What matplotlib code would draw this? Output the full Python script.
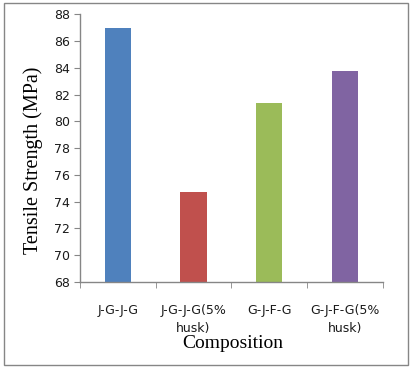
import matplotlib
matplotlib.use("Agg")
import matplotlib.pyplot as plt
from matplotlib.patches import Rectangle

categories = ["J-G-J-G", "J-G-J-G(5%\nhusk)", "G-J-F-G", "G-J-F-G(5%\nhusk)"]
strength = [87.0, 74.7, 81.4, 83.8]
bar_colors = ["#4F81BD", "#C0504D", "#9BBB59", "#8064A2"]
y_ticks = [68, 70, 72, 74, 76, 78, 80, 82, 84, 86, 88]

fig = plt.figure(figsize=(4.11, 3.69), dpi=100)
fig.patch.set_facecolor("white")

# outer chart border
fig.add_artist(Rectangle((4 / 411, 1 - 365 / 369), 404 / 411, 362 / 369,
                         transform=fig.transFigure, fill=False,
                         edgecolor="#868686", linewidth=1.0))

ax = fig.add_axes([80 / 411, 1 - 282 / 369, 302.7 / 411, 267.7 / 369])
x = list(range(len(categories)))
ax.bar(x, strength, width=0.345, color=bar_colors, zorder=2)

ax.set_xlim(-0.5, len(categories) - 0.5)
ax.set_ylim(68, 88)
ax.set_yticks(y_ticks)
ax.set_yticklabels([str(v) for v in y_ticks])
ax.set_xticks(x)
ax.set_xticklabels(categories, linespacing=1.45)
ax.set_xticks([i - 0.5 for i in range(len(categories) + 1)], minor=True)

tick_font = "DejaVu Sans"
for lab in ax.get_yticklabels() + ax.get_xticklabels():
    lab.set_fontfamily(tick_font)
    lab.set_fontsize(9)
    lab.set_color("#1a1a1a")

ax.tick_params(axis="y", direction="out", length=4, color="#868686", pad=3)
ax.tick_params(axis="x", which="major", length=0, pad=16)
ax.tick_params(axis="x", which="minor", direction="out", length=4, color="#868686")

for side in ["top", "right"]:
    ax.spines[side].set_visible(False)
for side in ["left", "bottom"]:
    ax.spines[side].set_color("#868686")
    ax.spines[side].set_linewidth(1.0)

fig.text(33 / 411, 1 - 160 / 369, "Tensile Strength (MPa)", rotation=90,
         ha="center", va="center", fontfamily="Liberation Serif", fontsize=14.5)
fig.text(233 / 411, 1 - 343 / 369, "Composition", ha="center", va="center",
         fontfamily="Liberation Serif", fontsize=14)

fig.savefig("out.png", dpi=100, facecolor="white")
